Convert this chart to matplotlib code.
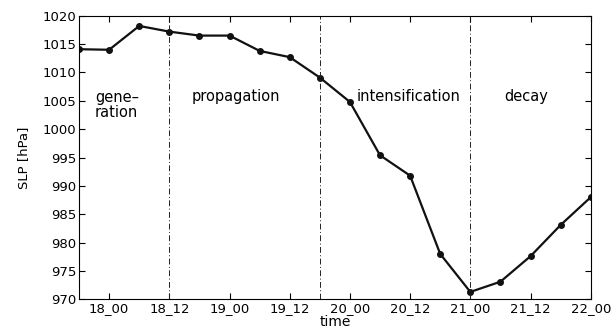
import matplotlib
matplotlib.use('Agg')
import matplotlib.pyplot as plt

# dados (SLP a cada 6 h)
times = ['17_18', '18_00', '18_06', '18_12', '18_18', '19_00', '19_06', '19_12', '19_18',
         '20_00', '20_06', '20_12', '20_18', '21_00', '21_06', '21_12', '21_18', '22_00']
slp = [1014.1, 1014.0, 1018.2, 1017.2, 1016.5, 1016.5, 1013.8, 1012.7, 1009.1,
       1004.8, 995.4, 991.8, 978.0, 971.3, 973.1, 977.6, 983.1, 988.0]

tick_labels = ['18_00', '18_12', '19_00', '19_12', '20_00', '20_12', '21_00', '21_12', '22_00']
phase_bounds = ['18_12', '19_18', '21_00']
phase_names = ['propagation', 'intensification', 'decay']
phase_pos = [25.2, 59.6, 83.1]

def horas(t):
    # horas desde 18_00
    d, h = t.split('_')
    return (int(d) - 18) * 24 + int(h)

x = [horas(t) for t in times]

plt.rcParams['font.family'] = ['DejaVu Sans']
fig = plt.figure(figsize=(6.15, 3.28), dpi=100)
ax = fig.add_axes([0.1285, 0.0875, 0.832, 0.8645])

ax.plot(x, slp, color='#111111', linewidth=1.6, marker='o', markersize=4)

for b in phase_bounds:
    ax.axvline(horas(b), color='#222222', linewidth=0.7, linestyle=(0, (6, 2.5, 1, 2.5)))

ax.text(-2.8, 1004.2, 'gene\u2013\nration', ha='left', va='center', fontsize=10.5,
        linespacing=1.0)
for nome, xp in zip(phase_names, phase_pos):
    ax.text(xp, 1005.7, nome, ha='center', va='center', fontsize=10.5)

ax.set_xlim(x[0], x[-1])
ax.set_ylim(970, 1020)
ax.set_xticks([horas(t) for t in tick_labels])
ax.set_xticklabels(tick_labels)
ax.set_yticks(range(970, 1021, 5))
ax.tick_params(direction='in', top=True, right=True, length=4, width=0.8,
               labelsize=9.5, pad=2)
ax.set_xlabel('time', fontsize=10, labelpad=0)
ax.set_ylabel('SLP [hPa]', fontsize=9.5, labelpad=9)
for s in ax.spines.values():
    s.set_linewidth(0.8)

plt.savefig('out.png', dpi=100)
